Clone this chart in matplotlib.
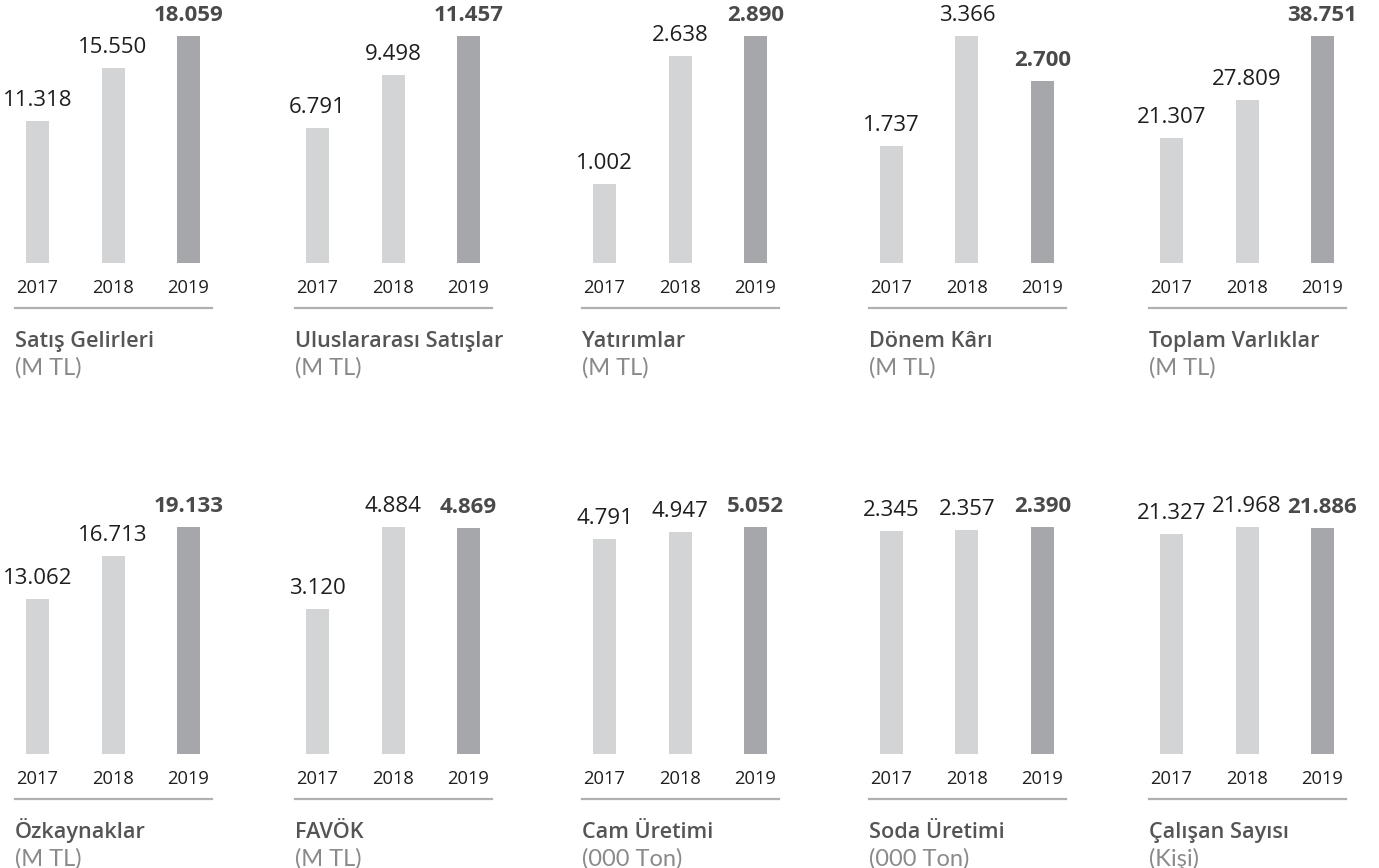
import matplotlib
matplotlib.use("Agg")
import matplotlib.pyplot as plt
from matplotlib.lines import Line2D

years = ["2017", "2018", "2019"]

titles = ["Satış Gelirleri", "Uluslararası Satışlar", "Yatırımlar", "Dönem Kârı", "Toplam Varlıklar",
          "Özkaynaklar", "FAVÖK", "Cam Üretimi", "Soda Üretimi", "Çalışan Sayısı"]
units = ["(M TL)", "(M TL)", "(M TL)", "(M TL)", "(M TL)",
         "(M TL)", "(M TL)", "(000 Ton)", "(000 Ton)", "(Kişi)"]

satis = [11318, 15550, 18059]
uluslararasi = [6791, 9498, 11457]
yatirimlar = [1002, 2638, 2890]
donem_kari = [1737, 3366, 2700]
toplam_varliklar = [21307, 27809, 38751]
ozkaynaklar = [13062, 16713, 19133]
favok = [3120, 4884, 4869]
cam = [4791, 4947, 5052]
soda = [2345, 2357, 2390]
calisan = [21327, 21968, 21886]

series = [satis, uluslararasi, yatirimlar, donem_kari, toplam_varliklar,
          ozkaynaklar, favok, cam, soda, calisan]

W, H = 1379, 868
fig = plt.figure(figsize=(W / 100, H / 100), dpi=100)

light = "#d3d4d6"
dark = "#a6a7aa"
line_c = "#b0b0b0"

col_x = [15, 295, 582, 869, 1149]
row_bottom = [263, 754]
panel_w = 197
max_h = 227
spacing = 75.5
first_off = 22.5
bar_w_px = 23

def fmt(v):
    return f"{v:,}".replace(",", ".")

def fx(x):
    return x / W

def fy(y):
    return 1 - y / H

for idx, vals in enumerate(series):
    r, c = divmod(idx, 5)
    x0 = col_x[c]
    yb = row_bottom[r]
    top_px = yb - 10 - 250 if r == 1 else 0
    ax_h = yb - top_px
    ax = fig.add_axes([fx(x0), fy(yb), panel_w / W, ax_h / H])
    ax.set_xlim(-first_off / spacing, (panel_w - first_off) / spacing)
    vmax = max(vals)
    ax.set_ylim(0, vmax * ax_h / max_h)
    ax.axis("off")
    colors = [light, light, dark]
    ax.bar(range(3), vals, width=bar_w_px / spacing, color=colors, linewidth=0)
    for i, v in enumerate(vals):
        bold = (i == 2)
        ax.annotate(fmt(v), (i, v), xytext=(0, 10.8), textcoords="offset points",
                    ha="center", va="baseline", fontsize=16,
                    family="Open Sans", fontweight="bold" if bold else "normal",
                    color="#4a4a4a" if bold else "#1e1e1e", annotation_clip=False)
        ax.annotate(years[i], (i, 0), xytext=(0, -30 / 1.389), textcoords="offset points",
                    ha="center", va="baseline", fontsize=13.2, family="Open Sans",
                    color="#1e1e1e", annotation_clip=False)
    ly = yb + 45
    fig.add_artist(Line2D([fx(x0), fx(x0 + panel_w)], [fy(ly), fy(ly)],
                          transform=fig.transFigure, color=line_c, linewidth=1.6))
    fig.text(fx(x0), fy(ly + 39), titles[idx], ha="left", va="baseline",
             fontsize=15.6, family="Open Sans", fontweight="semibold", color="#555555")
    fig.text(fx(x0), fy(ly + 67), units[idx], ha="left", va="baseline",
             fontsize=17, family="Lato", fontweight="normal", color="#8a8a8a")

fig.savefig("out.png", dpi=100)
